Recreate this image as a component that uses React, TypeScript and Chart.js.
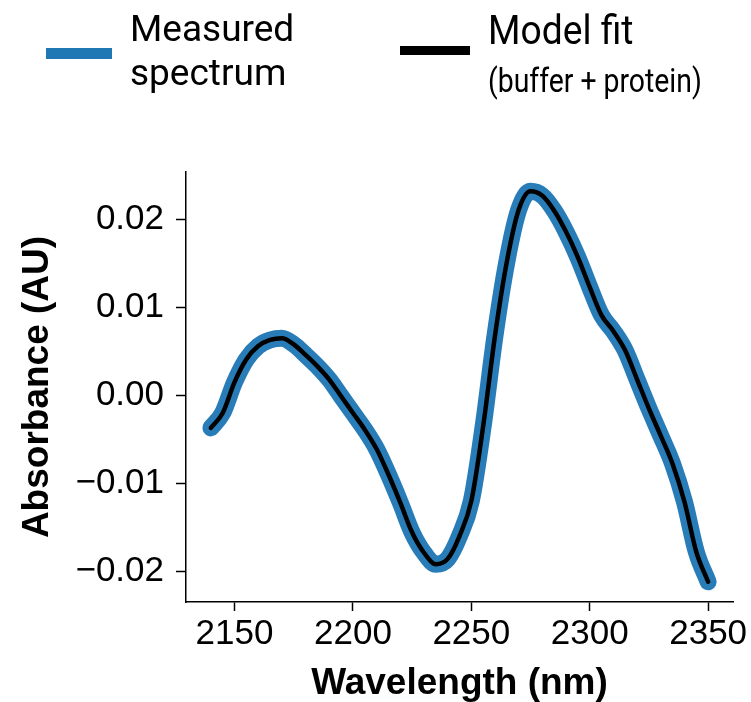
import React, { useEffect, useRef } from "react";
import { Chart, registerables } from "chart.js";

Chart.register(...registerables);

const wavelengths = [
  2140, 2145, 2150, 2155, 2160, 2165, 2170, 2175, 2180, 2185, 2190, 2195, 2200, 2205, 2210,
  2215, 2220, 2225, 2230, 2235, 2240, 2245, 2250, 2255, 2260, 2265, 2270, 2275, 2280, 2285,
  2290, 2295, 2300, 2305, 2310, 2315, 2320, 2325, 2330, 2335, 2340, 2345, 2350,
];

const measured = [
  -0.0037, -0.0020, 0.0015, 0.0041, 0.0056, 0.0063, 0.0065, 0.0058, 0.0046, 0.0033, 0.0018,
  -0.0001, -0.0020, -0.0039, -0.0061, -0.0090, -0.0122, -0.0156, -0.0179, -0.0192, -0.0186,
  -0.0160, -0.0120, -0.0035, 0.0068, 0.0152, 0.0211, 0.0232, 0.0227, 0.0210, 0.0186, 0.0157,
  0.0123, 0.0091, 0.0073, 0.0051, 0.0018, -0.0015, -0.0046, -0.0078, -0.0121, -0.0178, -0.0212,
];

const modelFit = [
  -0.0037, -0.0020, 0.0015, 0.0041, 0.0056, 0.0063, 0.0065, 0.0058, 0.0046, 0.0033, 0.0018,
  -0.0001, -0.0020, -0.0039, -0.0061, -0.0090, -0.0122, -0.0156, -0.0179, -0.0192, -0.0186,
  -0.0160, -0.0120, -0.0035, 0.0068, 0.0152, 0.0211, 0.0232, 0.0227, 0.0210, 0.0186, 0.0157,
  0.0123, 0.0091, 0.0073, 0.0051, 0.0018, -0.0015, -0.0046, -0.0078, -0.0121, -0.0178, -0.0212,
];

const xTicks = [2150, 2200, 2250, 2300, 2350];
const yTicks = [-0.02, -0.01, 0, 0.01, 0.02];

const legendFont = "Roboto, 'Noto Sans', sans-serif";
const axisFont = "'Liberation Sans', Arial, sans-serif";

function TextAt(props: {
  text: string;
  left: number;
  baseline: number;
  size: number;
  scaleX?: number;
}) {
  const { text, left, baseline, size, scaleX = 1 } = props;
  return (
    <div
      style={{
        position: "absolute",
        left,
        top: baseline - 0.8415 * size,
        fontFamily: legendFont,
        fontSize: size,
        lineHeight: `${size}px`,
        whiteSpace: "nowrap",
        color: "#000",
        transform: `scaleX(${scaleX})`,
        transformOrigin: "left top",
      }}
    >
      {text}
    </div>
  );
}

const softBlue = {
  id: "softBlue",
  beforeDatasetDraw(chart: any, args: any) {
    if (args.index === 1) {
      chart.ctx.save();
      chart.ctx.filter = "blur(0.6px)";
    }
  },
  afterDatasetDraw(chart: any, args: any) {
    if (args.index === 1) {
      chart.ctx.restore();
    }
  },
};

export default function App() {
  const canvasRef = useRef<HTMLCanvasElement | null>(null);

  useEffect(() => {
    const canvas = canvasRef.current;
    if (!canvas) return;
    const chart = new Chart(canvas, {
      type: "line",
      data: {
        datasets: [
          {
            label: "Model fit (buffer + protein)",
            data: wavelengths.map((x, i) => ({ x, y: modelFit[i] })),
            borderColor: "#000000",
            borderWidth: 4.5,
            pointRadius: 0,
            cubicInterpolationMode: "monotone",
            borderCapStyle: "round",
            borderJoinStyle: "round",
            order: 0,
          },
          {
            label: "Measured spectrum",
            data: wavelengths.map((x, i) => ({ x, y: measured[i] })),
            borderColor: "rgba(31,119,180,0.96)",
            borderWidth: 17,
            pointRadius: 0,
            cubicInterpolationMode: "monotone",
            borderCapStyle: "round",
            borderJoinStyle: "round",
            order: 1,
          },
        ],
      },
      options: {
        responsive: false,
        animation: false,
        events: [],
        layout: { padding: { top: 172, right: 18, left: 0, bottom: 0 } },
        plugins: {
          legend: { display: false },
          tooltip: { enabled: false },
        },
        scales: {
          x: {
            type: "linear",
            min: 2129.5,
            max: 2360.5,
            afterFit: (scale: any) => {
              scale.height = 100;
            },
            afterBuildTicks: (scale: any) => {
              scale.ticks = xTicks.map((v) => ({ value: v }));
            },
            ticks: {
              color: "#000",
              font: { family: axisFont, size: 35 },
              padding: 2,
              maxRotation: 0,
              autoSkip: false,
              callback: (v: any) => String(v),
            },
            grid: {
              display: true,
              drawOnChartArea: false,
              drawTicks: true,
              tickLength: 9,
              tickWidth: 1.5,
              tickColor: "#000",
            },
            border: { display: true, color: "#000", width: 1.5 },
            title: {
              display: true,
              text: "Wavelength (nm)",
              color: "#000",
              font: { family: axisFont, size: 37, weight: "bold", lineHeight: 1.0 },
              padding: { top: 0, bottom: 0 },
            },
          },
          y: {
            type: "linear",
            min: -0.0235,
            max: 0.0254,
            afterFit: (scale: any) => {
              scale.width = 186;
            },
            afterBuildTicks: (scale: any) => {
              scale.ticks = yTicks.map((v) => ({ value: v }));
            },
            ticks: {
              color: "#000",
              font: { family: axisFont, size: 35 },
              padding: 12,
              callback: (v: any) => {
                const n = Number(v);
                if (Math.abs(n) < 1e-9) return "0.00";
                return (n < 0 ? "\u2212" : "") + Math.abs(n).toFixed(2);
              },
            },
            grid: {
              display: true,
              drawOnChartArea: false,
              drawTicks: true,
              tickLength: 10,
              tickWidth: 1.5,
              tickColor: "#000",
            },
            border: { display: true, color: "#000", width: 1.5 },
            title: {
              display: true,
              text: "Absorbance (AU)",
              color: "#000",
              font: { family: axisFont, size: 37, weight: "bold" },
              padding: { top: 16, bottom: 0 },
            },
          },
        },
      },
      plugins: [softBlue],
    } as any);
    return () => chart.destroy();
  }, []);

  return (
    <div
      style={{
        position: "fixed",
        left: 0,
        top: 0,
        width: 751,
        height: 702,
        background: "#fff",
        overflow: "hidden",
      }}
    >
      <canvas
        ref={canvasRef}
        width={751}
        height={702}
        style={{ position: "absolute", left: 0, top: 0, width: 751, height: 702 }}
      />
      <div
        style={{
          position: "absolute",
          left: 46,
          top: 48,
          width: 66,
          height: 11,
          background: "#1f77b4",
        }}
      />
      <TextAt text="Measured" left={130} baseline={40.7} size={37} />
      <TextAt text="spectrum" left={130} baseline={85} size={37} />
      <div
        style={{
          position: "absolute",
          left: 400,
          top: 46,
          width: 70,
          height: 9,
          background: "#000",
        }}
      />
      <TextAt text="Model fit" left={488} baseline={45} size={40} scaleX={0.93} />
      <TextAt text="(buffer + protein)" left={488} baseline={92} size={33} scaleX={0.86} />
    </div>
  );
}
